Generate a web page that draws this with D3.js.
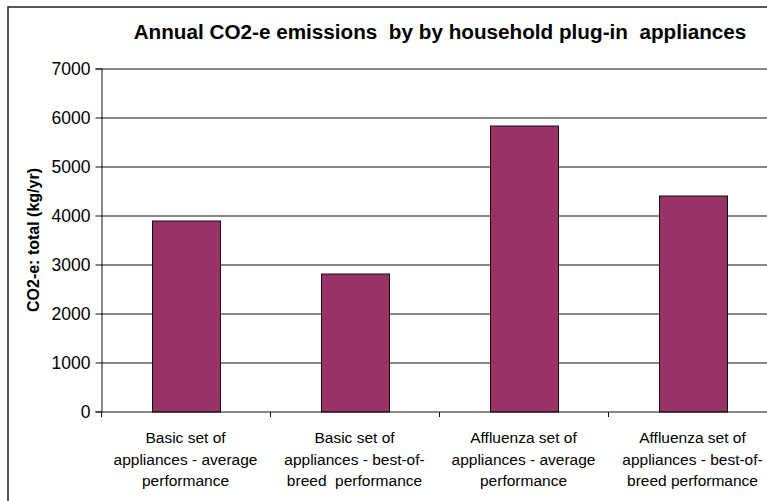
<!DOCTYPE html>
<html>
<head>
<meta charset="utf-8">
<script src="https://cdn.jsdelivr.net/npm/d3@7"></script>
<style>
  html, body { margin: 0; padding: 0; background: #fff; }
  svg { display: block; font-family: Arial, "Liberation Sans", sans-serif; }
  text { white-space: pre; }
</style>
</head>
<body>
<div id="chart"></div>
<script>
// Scenario labels, one array entry per line of the wrapped label
const categories = [
  ["Basic set of", "appliances - average", "performance"],
  ["Basic set of", "appliances - best-of-", "breed  performance"],
  ["Affluenza set of", "appliances - average", "performance"],
  ["Affluenza set of", "appliances - best-of-", "breed performance"]
];
// Annual CO2-e emissions, kg/yr
const emissions = [3900, 2810, 5830, 4400];
const yTicks = [0, 1000, 2000, 3000, 4000, 5000, 6000, 7000];

const W = 767, H = 501;
const margin = { left: 101, top: 68.5, bottom: 89.5 };
const plotW = 676;               // plot runs a little past the right edge
const plotH = H - margin.top - margin.bottom;

const svg = d3.select("#chart").append("svg")
  .attr("width", W).attr("height", H);

// Outer chart frame
svg.append("rect")
  .attr("x", 8).attr("y", 7)
  .attr("width", W + 20).attr("height", H + 20)
  .attr("fill", "#fff").attr("stroke", "#222").attr("stroke-width", 1.5);

const x = d3.scaleBand()
  .domain(d3.range(categories.length))
  .range([0, plotW])
  .paddingInner(0.6).paddingOuter(0.3);

const y = d3.scaleLinear().domain([0, 7000]).range([plotH, 0]);

const g = svg.append("g").attr("transform", `translate(${margin.left},${margin.top})`);

// Horizontal gridlines
g.append("g").selectAll("line").data(yTicks.filter(d => d > 0)).join("line")
  .attr("x1", 0).attr("x2", plotW)
  .attr("y1", d => Math.round(y(d)) + 0.5).attr("y2", d => Math.round(y(d)) + 0.5)
  .attr("stroke", "#111").attr("stroke-width", 1);

// Bars
g.append("g").selectAll("rect").data(emissions).join("rect")
  .attr("x", (d, i) => Math.round(x(i)) + 0.5)
  .attr("y", d => Math.round(y(d)) + 0.5)
  .attr("width", Math.round(x.bandwidth()))
  .attr("height", d => Math.round(y(0)) - Math.round(y(d)))
  .attr("fill", "#993366").attr("stroke", "#111").attr("stroke-width", 1);

// Y axis
const yAxis = d3.axisLeft(y).tickValues(yTicks).tickSize(6).tickPadding(5).tickFormat(d3.format("d"));
const ya = g.append("g").attr("transform", "translate(0.5,0)").call(yAxis);
ya.select(".domain").attr("stroke", "#111");
ya.selectAll(".tick line").attr("stroke", "#111");
ya.selectAll(".tick text").attr("font-size", 17.5).attr("fill", "#000")
  .attr("font-family", "Arial, 'Liberation Sans', sans-serif");

// X axis with ticks on category boundaries
const step = x.step();
const bounds = d3.range(categories.length + 1).map(i => i * step);
const xa = g.append("g").attr("transform", `translate(0,${Math.round(plotH) + 0.5})`);
xa.append("line").attr("x1", 0).attr("x2", plotW).attr("stroke", "#111");
xa.selectAll("line.tk").data(bounds).join("line").attr("class", "tk")
  .attr("x1", d => Math.round(d) + 0.5).attr("x2", d => Math.round(d) + 0.5)
  .attr("y1", 0).attr("y2", 5).attr("stroke", "#111");

// Category labels
const lab = xa.selectAll("text.cat").data(categories).join("text").attr("class", "cat")
  .attr("text-anchor", "middle").attr("font-size", 15.5).attr("fill", "#000")
  .attr("transform", (d, i) => `translate(${x(i) + x.bandwidth() / 2},0)`);
lab.selectAll("tspan").data(d => d).join("tspan")
  .attr("x", 0).attr("y", (d, i) => 31 + i * 21.5)
  .text(d => d);

// Y axis title
svg.append("text")
  .attr("transform", `translate(39,${margin.top + plotH / 2}) rotate(-90)`)
  .attr("text-anchor", "middle").attr("font-size", 16).attr("font-weight", "bold")
  .text("CO2-e: total (kg/yr)");

// Chart title
svg.append("text")
  .attr("x", 440).attr("y", 39)
  .attr("text-anchor", "middle").attr("font-size", 20.7).attr("font-weight", "bold")
  .text("Annual CO2-e emissions  by by household plug-in  appliances");
</script>
</body>
</html>
